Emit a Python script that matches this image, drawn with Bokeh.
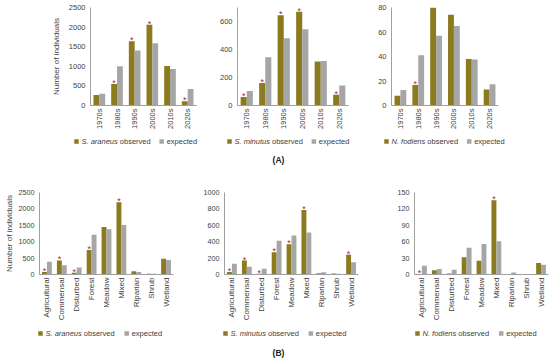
import math
from bokeh.plotting import figure
from bokeh.models import FactorRange, Range1d, FixedTicker
from bokeh.transform import dodge
from bokeh.core.properties import value
from bokeh.layouts import column, row
from bokeh.embed import file_html
from bokeh.resources import INLINE

# ---------------- data ----------------
decades = ["1970s", "1980s", "1990s", "2000s", "2010s", "2020s"]
habitats = ["Agricultural", "Commensal", "Disturbed", "Forest", "Meadow",
            "Mixed", "Riparian", "Shrub", "Wetland"]

sa_dec_obs = [270, 550, 1640, 2060, 1010, 110]
sa_dec_exp = [300, 1000, 1400, 1585, 930, 420]
sa_dec_sig = [0, 1, 1, 1, 0, 1]

sm_dec_obs = [60, 160, 645, 670, 315, 76]
sm_dec_exp = [104, 344, 481, 545, 318, 142]
sm_dec_sig = [1, 1, 1, 1, 0, 1]

nf_dec_obs = [8, 16.7, 80, 74, 38, 13]
nf_dec_exp = [12.6, 41, 57, 65, 37.5, 17.4]
nf_dec_sig = [0, 1, 0, 0, 0, 0]

sa_hab_obs = [80, 430, 50, 750, 1450, 2200, 100, 20, 480]
sa_hab_exp = [390, 280, 210, 1210, 1380, 1510, 75, 20, 445]
sa_hab_sig = [1, 1, 1, 1, 0, 1, 0, 0, 0]

sm_hab_obs = [32, 170, 8, 271, 368, 788, 16, 12, 242]
sm_hab_exp = [130, 93, 69, 412, 477, 513, 28, 8, 150]
sm_hab_sig = [1, 1, 1, 1, 1, 1, 0, 0, 1]

nf_hab_obs = [0.5, 8, 2, 31.5, 25, 136, 0, 0, 21]
nf_hab_exp = [16, 10, 8.5, 49, 56, 61, 3.6, 0.6, 18]
nf_hab_sig = [1, 0, 0, 0, 0, 1, 0, 0, 0]

species_names = ["S. araneus", "S. minutus", "N. fodiens"]
y_title = "Number of individuals"
panel_tags = ["(A)", "(B)"]

# ---------------- style ----------------
FONT = "Liberation Sans"
OBS_COLOR = "#8C7A1E"
EXP_COLOR = "#A6A6A6"
STAR_COLOR = "#A3294B"
TEXT_COLOR = "#404040"
AXIS_COLOR = "#A0A0A0"
FS = 7.5

CW = {' ': 278, '.': 278, 'S': 667, 'N': 722, 'a': 556, 'r': 333, 'n': 556,
      'e': 556, 'u': 556, 's': 500, 'm': 833, 'i': 222, 't': 278, 'o': 556,
      'f': 278, 'd': 556, 'l': 222, 'b': 556, 'v': 500, 'x': 500, 'p': 556,
      'c': 500}


def tw(s, size=FS):
    return sum(CW.get(c, 556) for c in s) / 1000.0 * size


def style_ylabel(ax, standoff, align=None):
    ax.axis_label = y_title
    ax.axis_label_text_font = FONT
    ax.axis_label_text_font_size = "8px"
    ax.axis_label_text_font_style = "normal"
    ax.axis_label_text_color = TEXT_COLOR
    ax.axis_label_standoff = standoff
    if align is not None:
        try:
            ax.axis_label_align = align
        except Exception:
            pass


def panel(cats, obs, exp, sig, ymax, ystep, w, h, fl, fr, ft, fb,
          xfs=FS, yfs=FS, ylabel=None):
    p = figure(x_range=FactorRange(*cats), y_range=Range1d(0, ymax),
               width=w, height=h, output_backend="svg", toolbar_location=None,
               min_border_left=fl, min_border_right=fr,
               min_border_top=ft, min_border_bottom=fb)
    p.outline_line_color = None
    p.grid.visible = False

    src = dict(cat=cats, obs=obs, exp=exp)
    bw = 0.33
    p.vbar(x=dodge('cat', -bw / 2, range=p.x_range), top='obs', width=bw,
           source=src, fill_color=OBS_COLOR, line_color=None)
    p.vbar(x=dodge('cat', bw / 2, range=p.x_range), top='exp', width=bw,
           source=src, fill_color=EXP_COLOR, line_color=None)

    sc = [c for c, s in zip(cats, sig) if s]
    sy = [o for o, s in zip(obs, sig) if s]
    p.text(x=dodge('cat', -bw / 2, range=p.x_range), y='y', text='t',
           source=dict(cat=sc, y=sy, t=["*"] * len(sc)),
           text_font=value(FONT), text_font_size="9px",
           text_color=STAR_COLOR, text_align="center",
           text_baseline="middle", y_offset=-1)

    for ax in (p.xaxis[0], p.yaxis[0]):
        ax.major_tick_line_color = None
        ax.minor_tick_line_color = None
        ax.major_tick_out = 0
        ax.major_tick_in = 0
        ax.minor_tick_out = 0
        ax.minor_tick_in = 0
        ax.axis_line_color = AXIS_COLOR
        ax.major_label_text_font = FONT
        ax.major_label_text_color = TEXT_COLOR
    p.xaxis.major_label_text_font_size = f"{xfs}px"
    p.yaxis.major_label_text_font_size = f"{yfs}px"
    p.xaxis.major_label_orientation = math.pi / 2
    p.xaxis.major_label_standoff = 3
    p.yaxis.major_label_standoff = 5
    p.yaxis.ticker = FixedTicker(ticks=list(range(0, ymax + 1, ystep)))
    if ylabel is not None:
        style_ylabel(p.yaxis[0], ylabel[0], ylabel[1])
    return p


def text_fig(w, h):
    t = figure(width=w, height=h, x_range=Range1d(0, w), y_range=Range1d(0, h),
               output_backend="svg", toolbar_location=None,
               x_axis_location=None, y_axis_location=None, min_border=0)
    t.outline_line_color = None
    t.grid.visible = False
    return t


def put_text(t, x, y, txt, size=FS, style="normal", color=TEXT_COLOR,
             align="left"):
    t.text(x=[x], y=[y], text=[txt], text_font=value(FONT),
           text_font_size=f"{size}px", text_font_style=style,
           text_color=color, text_align=align, text_baseline="middle")


def legend(t, x_text, y, species, gap):
    t.scatter([x_text - 5], [y], marker="square", size=4.5,
              fill_color=OBS_COLOR, line_color=None)
    put_text(t, x_text, y, species, style="italic")
    x = x_text + tw(species) + tw(" ")
    put_text(t, x, y, "observed")
    x += tw("observed") + gap
    t.scatter([x], [y], marker="square", size=4.5,
              fill_color=EXP_COLOR, line_color=None)
    put_text(t, x + 5, y, "expected")


# ---------- top row (page y 0 .. 133) ----------
TH = 133
f1 = panel(decades, sa_dec_obs, sa_dec_exp, sa_dec_sig, 2500, 500,
           203, TH, 90, 7, 7, 28, ylabel=(5, "right"))
f2 = panel(decades, sm_dec_obs, sm_dec_exp, sm_dec_sig, 700, 200,
           159, TH, 34, 14, 7, 28)
f3 = panel(decades, nf_dec_obs, nf_dec_exp, nf_dec_sig, 80, 20,
           188, TH, 29, 52, 7, 28)

# ---------- top legend strip (page y 133 .. 172) ----------
S1 = 39
s1 = text_fig(550, S1)
ly = 172 - 141
legend(s1, 81, ly, species_names[0], 11)
legend(s1, 234, ly, species_names[1], 11)
legend(s1, 391, ly, species_names[2], 11)
put_text(s1, 278, 172 - 159, panel_tags[0], size=8.5, style="bold",
         color="#202020", align="center")

# ---------- bottom row (page y 172 .. 324) ----------
BH = 152
f4 = panel(habitats, sa_hab_obs, sa_hab_exp, sa_hab_sig, 2500, 500,
           190, BH, 39, 17, 20, 50, xfs=8, yfs=7.2, ylabel=(2, None))
f5 = panel(habitats, sm_hab_obs, sm_hab_exp, sm_hab_sig, 1000, 200,
           180, BH, 34, 12, 20, 50, xfs=8, yfs=7.2)
f6 = panel(habitats, nf_hab_obs, nf_hab_exp, nf_hab_sig, 150, 30,
           180, BH, 44, 2, 20, 50, xfs=8, yfs=7.2)

# ---------- bottom legend strip (page y 324 .. 358) ----------
S2 = 34
s2 = text_fig(550, S2)
ly2 = 358 - 333
legend(s2, 45, ly2, species_names[0], 12)
legend(s2, 230, ly2, species_names[1], 12)
legend(s2, 422, ly2, species_names[2], 12)
put_text(s2, 278, 358 - 352, panel_tags[1], size=8.5, style="bold",
         color="#202020", align="center")

layout = column(row(f1, f2, f3), s1, row(f4, f5, f6), s2)
open("out.html", "w").write(file_html(layout, INLINE))
